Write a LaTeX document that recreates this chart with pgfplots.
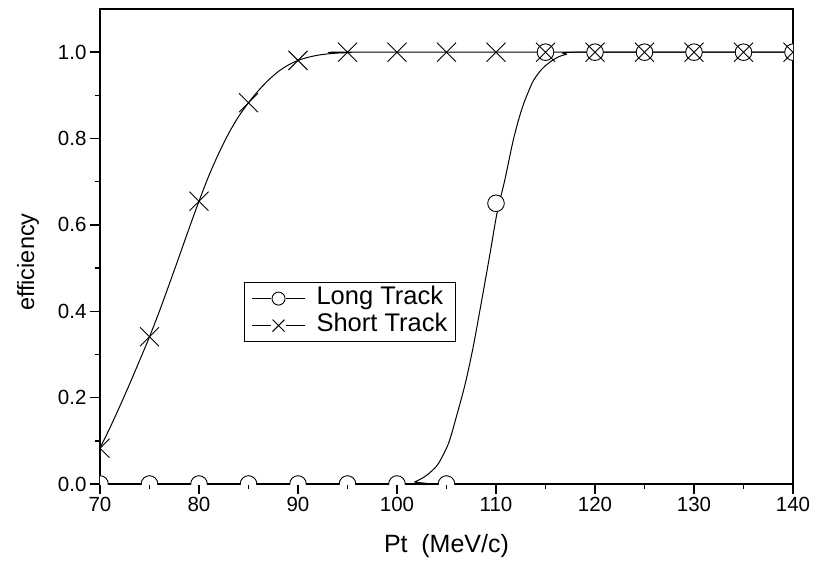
\documentclass[border=0pt]{standalone}
\usepackage{fontspec}
\setmainfont{Liberation Sans}
\usepackage{pgfplots}
\pgfplotsset{compat=1.18}
\usetikzlibrary{calc}

\begin{document}
\begin{tikzpicture}
\begin{axis}[
  name=ax,
  at={(0,0)}, anchor=south west,
  scale only axis,
  width=693pt, height=475pt,
  xmin=70, xmax=140, ymin=0, ymax=1.1,
  xtick={70,80,90,100,110,120,130,140},
  ytick={0,0.2,0.4,0.6,0.8,1.0},
  minor x tick num=1,
  minor y tick num=1,
  tick align=outside,
  tick pos=left,
  major tick length=10pt, minor tick length=5pt,
  every tick/.style={black, line width=1.5pt},
  axis line style={line width=1.6pt},
  /pgf/number format/assume math mode=true,
  tick label style={font=\fontsize{20.5}{24}\selectfont},
  yticklabel style={/pgf/number format/fixed, /pgf/number format/fixed zerofill, /pgf/number format/precision=1},
  xlabel={Pt\hspace{0.55em}(MeV/c)},
  ylabel={efficiency},
  xlabel style={font=\fontsize{25}{29}\selectfont, at={(axis description cs:0.5,-0.1432)}, anchor=base},
  ylabel style={font=\fontsize{23.5}{28}\selectfont, at={(axis description cs:-0.0952,0.467)}, anchor=base},
  clip marker paths=true,
  legend style={at={(axis cs:84.55,0.4676)}, anchor=north west, draw=black, line width=1pt,
    font=\fontsize{25.5}{29}\selectfont, inner xsep=4pt, inner ysep=2.5pt, row sep=0pt,
    nodes={inner xsep=4pt, inner ysep=0.5pt, text height=19pt, text depth=7pt}},
  legend cell align=left,
  legend image code/.code={
    \path (-3pt,0pt) (60pt,0pt);
    \draw[black,line width=1pt] (0pt,0pt) -- (19pt,0pt) (34pt,0pt) -- (53pt,0pt);
    \draw[#1] plot coordinates {(26.5pt,0pt)};
  },
]
% fitted curves
\addplot[black, line width=1pt, smooth, tension=0.5, forget plot] coordinates {
 (70,0.083) (71,0.13) (72,0.18) (73,0.232) (74,0.286) (75,0.341) (76,0.40)
 (77,0.463) (78,0.527) (79,0.592) (80,0.655) (81,0.714) (82,0.766) (83,0.812)
 (84,0.851) (85,0.883) (86,0.911) (87,0.935) (88,0.955) (89,0.970) (90,0.981)
 (91,0.988) (92,0.993) (93,0.996) (94,0.998) (95,0.999) (96,1.0) (140,1.0)
};
\addplot[black, line width=1pt, smooth, tension=0.5, forget plot] coordinates {
 (70,0) (100.8,0) (101.8,0.005) (102.8,0.017) (103.5,0.03) (104.2,0.048)
 (105.2,0.094) (106.0,0.156) (106.9,0.233) (107.7,0.318) (108.5,0.418)
 (109.4,0.534) (110.1,0.627) (110.9,0.705) (111.7,0.792) (112.3,0.845) (112.8,0.881)
 (113.3,0.910) (113.8,0.935) (114.6,0.960) (115.5,0.978) (116.3,0.989) (117.1,0.995) (118.5,1.0) (140,1.0)
};
% data points
\addplot[only marks, mark=*, mark size=8.3pt, mark options={draw=black, fill=white, line width=0.9pt},
  legend image post style={mark size=6.5pt}] coordinates {
 (70,0) (75,0) (80,0) (85,0) (90,0) (95,0) (100,0) (105,0) (110,0.65)
 (115,1) (120,1) (125,1) (130,1) (135,1) (140,1)
};
\addlegendentry{Long Track}
\addplot[only marks, mark=x, mark size=13.4pt, mark options={draw=black, line width=0.9pt},
  legend image post style={mark size=8.5pt}] coordinates {
 (70,0.083) (75,0.341) (80,0.655) (85,0.883) (90,0.981) (95,1) (100,1) (105,1)
 (110,1) (115,1) (120,1) (125,1) (130,1) (135,1) (140,1)
};
\addlegendentry{Short Track}
\end{axis}
\pgfresetboundingbox
\path[use as bounding box] ($(ax.south west)+(-100pt,-76pt)$) rectangle ($(ax.north east)+(30pt,9pt)$);
\end{tikzpicture}
\end{document}
